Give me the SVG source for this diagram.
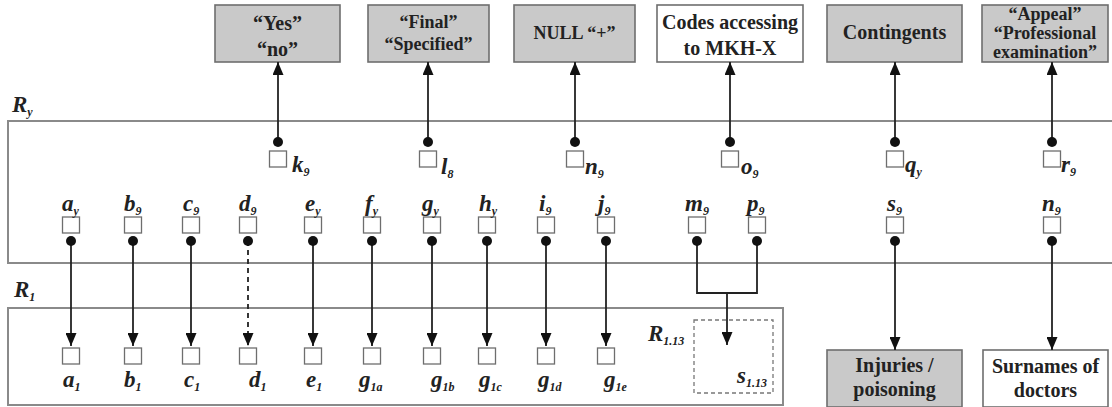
<svg xmlns="http://www.w3.org/2000/svg" width="1112" height="407" viewBox="0 0 1112 407">
  <style>
    .frame { fill: #ffffff; stroke: #8a8a8a; stroke-width: 2; }
    .sub-frame { fill: none; stroke: #777; stroke-width: 1.3; stroke-dasharray: 4 3; }
    .box { stroke: #6e6e6e; stroke-width: 1.6; }
    .grey { fill: #c9c9c9; }
    .white { fill: #ffffff; }
    .btxt { font-family: "Liberation Serif", "Times New Roman", serif; font-weight: bold; font-size: 20px; fill: #222; text-anchor: middle; }
    .btxt.sm { font-size: 18px; }
    .var { font-family: "Liberation Serif", "Times New Roman", serif; font-style: italic; font-weight: bold; font-size: 23px; fill: #222; }
    .var .s { font-size: 12px; }
    .sq { fill: #ffffff; stroke: #6e6e6e; stroke-width: 1.3; }
    .link { fill: none; stroke: #222; stroke-width: 1.8; }
    .dash { stroke-dasharray: 5 4; }
  </style>
  <defs>
    <marker id="arrow" viewBox="0 0 13 11" refX="13" refY="5.5" markerWidth="13" markerHeight="11" markerUnits="userSpaceOnUse" orient="auto">
      <path d="M0,0 L13,5.5 L0,11 z" fill="#111"/>
    </marker>
    <marker id="dot" viewBox="0 0 11 11" refX="5.5" refY="5.5" markerWidth="11" markerHeight="11" markerUnits="userSpaceOnUse">
      <circle cx="5.5" cy="5.5" r="5" fill="#111"/>
    </marker>
    <rect id="cell" class="sq" x="-8.5" y="0" width="17" height="16"/>
  </defs>

  <!-- relation frames -->
  <g id="frame-Ry">
    <rect class="frame" x="8" y="121" width="1110" height="142"/>
    <text class="var" x="12" y="112">R<tspan class="s" dy="4">y</tspan></text>
  </g>
  <g id="frame-R1">
    <rect class="frame" x="8" y="308" width="775" height="97"/>
    <text class="var" x="14" y="297">R<tspan class="s" dy="4">1</tspan></text>
  </g>
  <g id="frame-R113">
    <rect class="sub-frame" x="694" y="320" width="79" height="73"/>
    <text class="var" x="648" y="341">R<tspan class="s" dy="4">1.13</tspan></text>
    <text class="var" x="737" y="383">s<tspan class="s" dy="4">1.13</tspan></text>
  </g>

  <!-- lookup boxes -->
  <g id="box-yesno">
    <rect class="box grey" x="215" y="5" width="125" height="57"/>
    <text class="btxt" x="277.5" y="30">“Yes”</text>
    <text class="btxt" x="277.5" y="56">“no”</text>
  </g>
  <g id="box-final">
    <rect class="box grey" x="368" y="5" width="121" height="57"/>
    <text class="btxt sm" x="428.5" y="28">“Final”</text>
    <text class="btxt sm" x="428.5" y="50">“Specified”</text>
  </g>
  <g id="box-null">
    <rect class="box grey" x="514" y="5" width="121" height="57"/>
    <text class="btxt sm" x="574.5" y="39">NULL “+”</text>
  </g>
  <g id="box-codes">
    <rect class="box white" x="657" y="5" width="146" height="57"/>
    <text class="btxt" x="730" y="29">Codes accessing</text>
    <text class="btxt" x="730" y="55">to MKH-X</text>
  </g>
  <g id="box-contingents">
    <rect class="box grey" x="827" y="5" width="135" height="57"/>
    <text class="btxt" x="894.5" y="39">Contingents</text>
  </g>
  <g id="box-appeal">
    <rect class="box grey" x="982" y="5" width="126" height="57"/>
    <text class="btxt sm" x="1045" y="20">“Appeal”</text>
    <text class="btxt sm" x="1045" y="39">“Professional</text>
    <text class="btxt sm" x="1045" y="58">examination”</text>
  </g>
  <g id="box-injuries">
    <rect class="box grey" x="827" y="350" width="135" height="57"/>
    <text class="btxt" x="894.5" y="372">Injuries /</text>
    <text class="btxt" x="894.5" y="396">poisoning</text>
  </g>
  <g id="box-surnames">
    <rect class="box white" x="983" y="350" width="125" height="57"/>
    <text class="btxt" x="1045.5" y="373">Surnames of</text>
    <text class="btxt" x="1045.5" y="397">doctors</text>
  </g>

  <!-- attributes of R_y linked to lookup boxes -->
  <g id="attr-k9"><use href="#cell" x="278" y="151"/><text class="var" x="292" y="172">k<tspan class="s" dy="4">9</tspan></text></g>
  <g id="attr-l8"><use href="#cell" x="428" y="151"/><text class="var" x="441" y="174">l<tspan class="s" dy="4">8</tspan></text></g>
  <g id="attr-n9top"><use href="#cell" x="575" y="151"/><text class="var" x="585" y="174">n<tspan class="s" dy="4">9</tspan></text></g>
  <g id="attr-o9"><use href="#cell" x="730" y="151"/><text class="var" x="741" y="174">o<tspan class="s" dy="4">9</tspan></text></g>
  <g id="attr-qy"><use href="#cell" x="895" y="151"/><text class="var" x="905" y="172">q<tspan class="s" dy="4">y</tspan></text></g>
  <g id="attr-r9"><use href="#cell" x="1052" y="151"/><text class="var" x="1061" y="172">r<tspan class="s" dy="4">9</tspan></text></g>

  <!-- attributes of R_y mapped to R_1 -->
  <g id="attr-ay"><use href="#cell" x="71" y="217"/><text class="var" x="62" y="211">a<tspan class="s" dy="4">y</tspan></text></g>
  <g id="attr-b9"><use href="#cell" x="133" y="217"/><text class="var" x="124" y="211">b<tspan class="s" dy="4">9</tspan></text></g>
  <g id="attr-c9"><use href="#cell" x="191" y="217"/><text class="var" x="183" y="211">c<tspan class="s" dy="4">9</tspan></text></g>
  <g id="attr-d9"><use href="#cell" x="248" y="217"/><text class="var" x="239" y="211">d<tspan class="s" dy="4">9</tspan></text></g>
  <g id="attr-ey"><use href="#cell" x="313" y="217"/><text class="var" x="305" y="211">e<tspan class="s" dy="4">y</tspan></text></g>
  <g id="attr-fy"><use href="#cell" x="372" y="217"/><text class="var" x="365" y="211">f<tspan class="s" dy="4">y</tspan></text></g>
  <g id="attr-gy"><use href="#cell" x="432" y="217"/><text class="var" x="422" y="211">g<tspan class="s" dy="4">y</tspan></text></g>
  <g id="attr-hy"><use href="#cell" x="487" y="217"/><text class="var" x="479" y="211">h<tspan class="s" dy="4">y</tspan></text></g>
  <g id="attr-i9"><use href="#cell" x="546" y="217"/><text class="var" x="539" y="211">i<tspan class="s" dy="4">9</tspan></text></g>
  <g id="attr-j9"><use href="#cell" x="606" y="217"/><text class="var" x="598" y="211">j<tspan class="s" dy="4">9</tspan></text></g>
  <g id="attr-m9"><use href="#cell" x="697" y="217"/><text class="var" x="685" y="211">m<tspan class="s" dy="4">9</tspan></text></g>
  <g id="attr-p9"><use href="#cell" x="757" y="217"/><text class="var" x="747" y="211">p<tspan class="s" dy="4">9</tspan></text></g>
  <g id="attr-s9"><use href="#cell" x="895" y="217"/><text class="var" x="887" y="211">s<tspan class="s" dy="4">9</tspan></text></g>
  <g id="attr-n9"><use href="#cell" x="1052" y="217"/><text class="var" x="1042" y="211">n<tspan class="s" dy="4">9</tspan></text></g>

  <!-- attributes of R_1 -->
  <g id="attr-a1"><use href="#cell" x="71" y="348"/><text class="var" x="63" y="387">a<tspan class="s" dy="4">1</tspan></text></g>
  <g id="attr-b1"><use href="#cell" x="133" y="348"/><text class="var" x="124" y="387">b<tspan class="s" dy="4">1</tspan></text></g>
  <g id="attr-c1"><use href="#cell" x="191" y="348"/><text class="var" x="184" y="387">c<tspan class="s" dy="4">1</tspan></text></g>
  <g id="attr-d1"><use href="#cell" x="248" y="348"/><text class="var" x="249" y="387">d<tspan class="s" dy="4">1</tspan></text></g>
  <g id="attr-e1"><use href="#cell" x="313" y="348"/><text class="var" x="306" y="387">e<tspan class="s" dy="4">1</tspan></text></g>
  <g id="attr-g1a"><use href="#cell" x="372" y="348"/><text class="var" x="359" y="387">g<tspan class="s" dy="4">1a</tspan></text></g>
  <g id="attr-g1b"><use href="#cell" x="432" y="348"/><text class="var" x="431" y="387">g<tspan class="s" dy="4">1b</tspan></text></g>
  <g id="attr-g1c"><use href="#cell" x="487" y="348"/><text class="var" x="479" y="387">g<tspan class="s" dy="4">1c</tspan></text></g>
  <g id="attr-g1d"><use href="#cell" x="546" y="348"/><text class="var" x="538" y="387">g<tspan class="s" dy="4">1d</tspan></text></g>
  <g id="attr-g1e"><use href="#cell" x="606" y="348"/><text class="var" x="604" y="387">g<tspan class="s" dy="4">1e</tspan></text></g>

  <!-- connectors -->
  <g id="connectors">
    <!-- up to lookup boxes -->
    <line class="link" x1="278" y1="142" x2="278" y2="62" marker-start="url(#dot)" marker-end="url(#arrow)"/>
    <line class="link" x1="428" y1="142" x2="428" y2="62" marker-start="url(#dot)" marker-end="url(#arrow)"/>
    <line class="link" x1="575" y1="142" x2="575" y2="62" marker-start="url(#dot)" marker-end="url(#arrow)"/>
    <line class="link" x1="730" y1="142" x2="730" y2="62" marker-start="url(#dot)" marker-end="url(#arrow)"/>
    <line class="link" x1="895" y1="142" x2="895" y2="62" marker-start="url(#dot)" marker-end="url(#arrow)"/>
    <line class="link" x1="1052" y1="142" x2="1052" y2="62" marker-start="url(#dot)" marker-end="url(#arrow)"/>
    <!-- down to R_1 -->
    <line class="link" x1="71" y1="241" x2="71" y2="346" marker-start="url(#dot)" marker-end="url(#arrow)"/>
    <line class="link" x1="133" y1="241" x2="133" y2="346" marker-start="url(#dot)" marker-end="url(#arrow)"/>
    <line class="link" x1="191" y1="241" x2="191" y2="346" marker-start="url(#dot)" marker-end="url(#arrow)"/>
    <line class="link dash" x1="248" y1="241" x2="248" y2="346" marker-start="url(#dot)" marker-end="url(#arrow)"/>
    <line class="link" x1="313" y1="241" x2="313" y2="346" marker-start="url(#dot)" marker-end="url(#arrow)"/>
    <line class="link" x1="372" y1="241" x2="372" y2="346" marker-start="url(#dot)" marker-end="url(#arrow)"/>
    <line class="link" x1="432" y1="241" x2="432" y2="346" marker-start="url(#dot)" marker-end="url(#arrow)"/>
    <line class="link" x1="487" y1="241" x2="487" y2="346" marker-start="url(#dot)" marker-end="url(#arrow)"/>
    <line class="link" x1="546" y1="241" x2="546" y2="346" marker-start="url(#dot)" marker-end="url(#arrow)"/>
    <line class="link" x1="606" y1="241" x2="606" y2="346" marker-start="url(#dot)" marker-end="url(#arrow)"/>
    <!-- m and p merge into s_1.13 -->
    <path class="link" d="M697,241 V293 H757 V241" marker-start="url(#dot)" marker-end="url(#dot)"/>
    <line class="link" x1="727" y1="293" x2="727" y2="345" marker-end="url(#arrow)"/>
    <!-- down to lookup boxes -->
    <line class="link" x1="895" y1="241" x2="895" y2="350" marker-start="url(#dot)" marker-end="url(#arrow)"/>
    <line class="link" x1="1052" y1="241" x2="1052" y2="350" marker-start="url(#dot)" marker-end="url(#arrow)"/>
  </g>
</svg>
